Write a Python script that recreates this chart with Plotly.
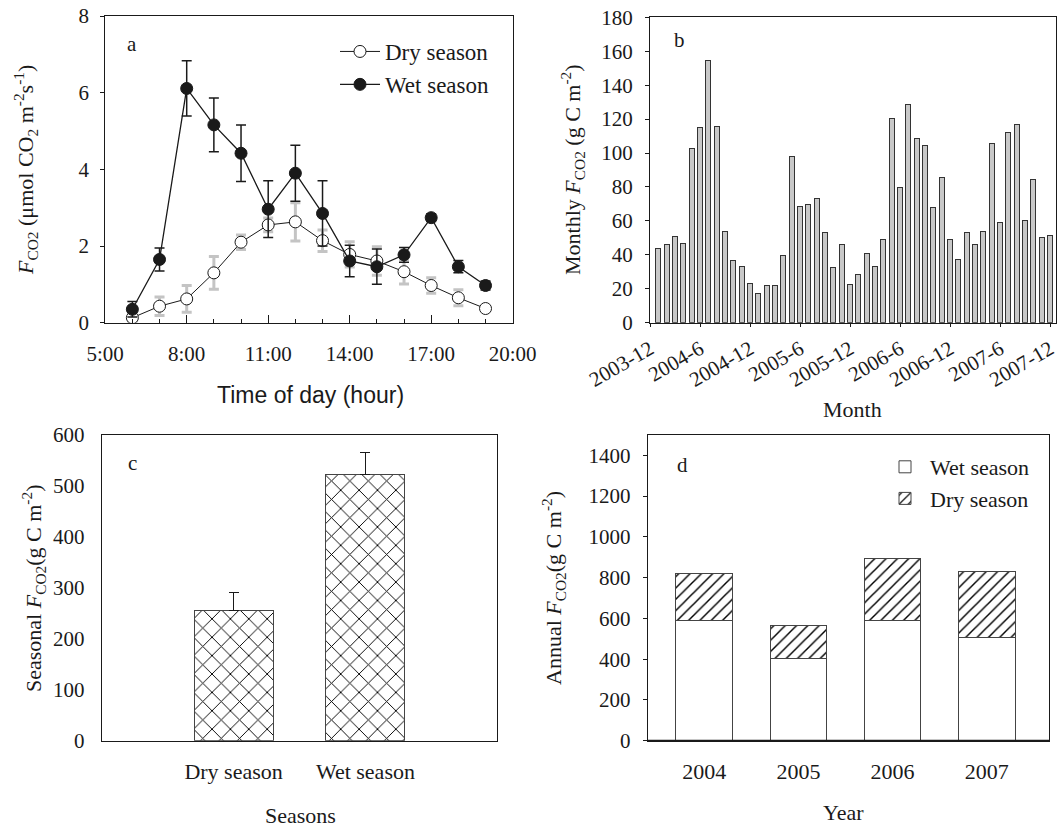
import plotly.graph_objects as go
import numpy as np

W, H = 1062, 827

# ---------------- data ----------------
# panel a: diurnal course
hours = [6, 7, 8, 9, 10, 11, 12, 13, 14, 15, 16, 17, 18, 19]
dry_mean = [0.13, 0.43, 0.62, 1.30, 2.10, 2.55, 2.63, 2.14, 1.78, 1.61, 1.33, 0.97, 0.65, 0.37]
dry_err = [0.10, 0.24, 0.35, 0.43, 0.19, 0.18, 0.50, 0.28, 0.33, 0.37, 0.32, 0.20, 0.21, 0.03]
wet_mean = [0.35, 1.65, 6.11, 5.16, 4.42, 2.96, 3.90, 2.85, 1.61, 1.46, 1.77, 2.74, 1.46, 0.97]
wet_err = [0.20, 0.30, 0.72, 0.70, 0.74, 0.74, 0.73, 0.85, 0.41, 0.46, 0.19, 0.10, 0.16, 0.12]
hour_tickvals = [5, 8, 11, 14, 17, 20]
hour_ticktext = ["5:00", "8:00", "11:00", "14:00", "17:00", "20:00"]

# panel b: monthly totals 2004-1 .. 2007-12
monthly = [43.8, 45.8, 50.7, 46.8, 102.7, 115.1, 154.8, 115.5, 53.6, 36.5, 33.0, 23.2,
           17.3, 21.8, 22.2, 39.9, 98.2, 68.4, 69.5, 73.5, 53.0, 32.6, 45.8, 22.6,
           28.5, 40.9, 33.4, 49.1, 120.4, 79.6, 128.7, 108.6, 104.5, 68.0, 85.5, 49.1,
           37.3, 53.0, 45.8, 53.6, 105.7, 59.1, 112.2, 116.9, 60.3, 84.5, 50.3, 51.5]
month_ticktext = ["2003-12", "2004-6", "2004-12", "2005-6", "2005-12",
                  "2006-6", "2006-12", "2007-6", "2007-12"]

# panel c: seasonal totals
seasons = ["Dry season", "Wet season"]
seasonal = [255, 523]
seasonal_err = [36, 43]

# panel d: annual totals split by season
years = ["2004", "2005", "2006", "2007"]
annual_wet = [588, 403, 589, 506]
annual_dry = [232, 160, 307, 323]

# ---------------- layout helpers ----------------
def xd(a, b):
    return [a / W, b / W]

def yd(top, bottom):
    return [1 - bottom / H, 1 - top / H]

SERIF = "Liberation Serif"
SANS = "Liberation Sans"
INK = "#1a1a1a"
TICK = 21

fig = go.Figure()

# ---- panel a ----
fig.add_trace(go.Scatter(
    x=hours, y=dry_mean, mode="lines+markers", name="Dry season",
    line=dict(color=INK, width=1),
    marker=dict(symbol="circle", size=12, color="white", line=dict(color=INK, width=1)),
    error_y=dict(type="data", array=dry_err, color="#c4c4c4", thickness=3, width=5),
    xaxis="x", yaxis="y", legend="legend"))
fig.add_trace(go.Scatter(
    x=hours, y=wet_mean, mode="lines+markers", name="Wet season",
    line=dict(color=INK, width=1.3),
    marker=dict(symbol="circle", size=12, color=INK, line=dict(color=INK, width=1)),
    error_y=dict(type="data", array=wet_err, color=INK, thickness=1.5, width=5),
    xaxis="x", yaxis="y", legend="legend"))

# ---- panel b ----
month_idx = np.arange(1, len(monthly) + 1)
fig.add_trace(go.Bar(
    x=month_idx, y=monthly, width=0.6, showlegend=False,
    marker=dict(color="#c8c8c8", line=dict(color="#333333", width=1)),
    xaxis="x2", yaxis="y2"))

# ---- panel c ----
fig.add_trace(go.Bar(
    x=seasons, y=seasonal, width=0.6, showlegend=False,
    marker=dict(color="white", line=dict(color="#444444", width=1),
                pattern=dict(shape="x", size=13, solidity=0.14, fgcolor="#000000", bgcolor="white")),
    error_y=dict(type="data", array=seasonal_err, arrayminus=[0, 0], symmetric=False,
                 color=INK, thickness=1, width=5),
    xaxis="x3", yaxis="y3"))

# ---- panel d ----
fig.add_trace(go.Bar(
    x=years, y=annual_wet, width=0.6, name="Wet season",
    marker=dict(color="white", line=dict(color="#444444", width=1)),
    xaxis="x4", yaxis="y4", legend="legend2"))
fig.add_trace(go.Bar(
    x=years, y=annual_dry, width=0.6, name="Dry season",
    marker=dict(color="white", line=dict(color="#444444", width=1),
                pattern=dict(shape="/", size=8, solidity=0.18, fgcolor="#000000", bgcolor="white")),
    xaxis="x4", yaxis="y4", legend="legend2"))

axis_common = dict(showline=True, linecolor=INK, linewidth=1, mirror=True,
                   showgrid=False, zeroline=False, automargin=False,
                   tickfont=dict(family=SERIF, size=TICK, color=INK), tickcolor=INK)

fig.update_layout(
    template="none",
    width=W, height=H, margin=dict(l=0, r=0, t=0, b=0, autoexpand=False),
    paper_bgcolor="white", plot_bgcolor="white",
    barmode="stack",
    font=dict(family=SERIF, color=INK),
    # panel a axes
    xaxis=dict(axis_common, domain=xd(105.2, 512.7), anchor="y", range=[5, 20],
               tickvals=hour_tickvals, ticktext=hour_ticktext, ticks="inside", ticklen=8,
               minor=dict(dtick=1, ticks="inside", ticklen=4, tickcolor=INK),
               ticklabelstandoff=12),
    yaxis=dict(axis_common, domain=yd(16, 322.7), anchor="x", range=[0, 8], dtick=2,
               ticks="outside", ticklen=4, ticklabelstandoff=7),
    # panel b axes
    xaxis2=dict(axis_common, domain=xd(650, 1056), anchor="y2", range=[0, 48.7],
                tickvals=list(range(0, 49, 6)), ticktext=month_ticktext, tickangle=-30,
                ticks="outside", ticklen=3, ticklabelstandoff=2),
    yaxis2=dict(axis_common, domain=yd(17.3, 322.7), anchor="x2", range=[0, 180], dtick=20,
                ticks="outside", ticklen=4, ticklabelstandoff=8),
    # panel c axes
    xaxis3=dict(axis_common, domain=xd(101.7, 497.3), anchor="y3", type="category",
                range=[-1, 2], ticks="", ticklabelstandoff=11,
                tickfont=dict(family=SERIF, size=22, color=INK)),
    yaxis3=dict(axis_common, domain=yd(435, 740.7), anchor="x3", range=[0, 600], dtick=100,
                ticks="", ticklabelstandoff=12),
    # panel d axes
    xaxis4=dict(axis_common, domain=xd(647.7, 1049), anchor="y4", type="category",
                range=[-0.6, 3.66], ticks="", ticklabelstandoff=11,
                tickfont=dict(family=SERIF, size=22, color=INK)),
    yaxis4=dict(axis_common, domain=yd(435, 740.7), anchor="x4", range=[0, 1500],
                tickvals=[0, 200, 400, 600, 800, 1000, 1200, 1400],
                ticks="outside", ticklen=4, ticklabelstandoff=8),
    legend=dict(x=335 / W, y=1 - 30 / H, xanchor="left", yanchor="top",
                bgcolor="rgba(0,0,0,0)", font=dict(family=SERIF, size=23, color=INK),
                itemwidth=40, traceorder="normal"),
    legend2=dict(x=880 / W, y=1 - 446 / H, xanchor="left", yanchor="top",
                 bgcolor="rgba(0,0,0,0)", font=dict(family=SERIF, size=22, color=INK),
                 itemwidth=40, traceorder="normal"),
)

# thicker bottom axis line in panel d
fig.add_shape(type="line", xref="x4 domain", yref="y4 domain", x0=0, x1=1, y0=0, y1=0,
              line=dict(color=INK, width=2))

def ann(text, x, y, size=22, family=SERIF, angle=0, xanchor="center"):
    fig.add_annotation(text=text, x=x / W, y=1 - y / H, xref="paper", yref="paper",
                       showarrow=False, textangle=angle, xanchor=xanchor, yanchor="middle",
                       font=dict(family=family, size=size, color=INK))

# panel letters
ann("a", 132, 44, size=21)
ann("b", 679, 40, size=21)
ann("c", 132, 463, size=21)
ann("d", 682, 465, size=21)

# axis titles
ann("Time of day (hour)", 310, 395, size=23, family=SANS)
ann("<i>F</i><sub>CO2</sub> (μmol CO<sub>2</sub> m<sup>-2</sup>s<sup>-1</sup>)", 25, 170, angle=-90)
ann("Monthly <i>F</i><sub>CO2</sub> (g C m<sup>-2</sup>)", 572, 170, angle=-90)
ann("Month", 853, 410)
ann("Seasonal <i>F</i><sub>CO2</sub>(g C m<sup>-2</sup>)", 33, 588, angle=-90)
ann("Seasons", 300, 815)
ann("Annual <i>F</i><sub>CO2</sub>(g C m<sup>-2</sup>)", 553, 588, angle=-90)
ann("Year", 843, 812)

fig.write_html("out.html")
